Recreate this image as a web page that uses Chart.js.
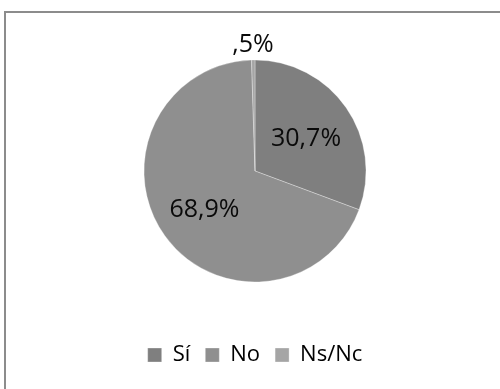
<!DOCTYPE html>
<html>
<head>
<meta charset="utf-8">
<script src="https://cdn.jsdelivr.net/npm/chart.js@4.4.0/dist/chart.umd.min.js"></script>
<style>
  html, body { margin: 0; padding: 0; background: #fff; overflow: hidden; }
  #wrap { position: relative; width: 500px; height: 389px; }
  #frame { position: absolute; left: 4px; top: 11px; width: 600px; height: 500px;
           border-top: 2px solid #8c8c8c; border-left: 2px solid #8c8c8c; }
  #c { position: absolute; left: 0; top: 0; }
</style>
</head>
<body>
<div id="wrap">
  <div id="frame"></div>
  <canvas id="c" width="500" height="389"></canvas>
</div>
<script>
var categories = ['Sí', 'No', 'Ns/Nc'];
var values = [30.7, 68.9, 0.5];
var colors = ['#7f7f7f', '#8f8f8f', '#a5a5a5'];

function fmt(v) {
  var s = v.toFixed(1).replace('.', ',');
  if (s.indexOf('0,') === 0) s = s.substring(1);
  return s + '%';
}

// percentage labels on the slices (small ones go outside)
var sliceLabels = {
  id: 'sliceLabels',
  afterDatasetsDraw: function(chart) {
    var ctx = chart.ctx;
    var meta = chart.getDatasetMeta(0);
    var total = values.reduce(function(a, b) { return a + b; }, 0);
    ctx.save();
    ctx.font = '25px "Open Sans"';
    ctx.fillStyle = '#0a0a0a';
    ctx.textAlign = 'center';
    ctx.textBaseline = 'middle';
    meta.data.forEach(function(arc, i) {
      var p = arc.getProps(['x', 'y', 'startAngle', 'endAngle', 'outerRadius'], true);
      var mid = (p.startAngle + p.endAngle) / 2;
      var r = values[i] / total < 0.02 ? p.outerRadius + 18 : p.outerRadius * 0.56;
      ctx.fillText(fmt(values[i]), p.x + Math.cos(mid) * r, p.y + Math.sin(mid) * r + 3);
    });
    ctx.restore();
  }
};

new Chart(document.getElementById('c').getContext('2d'), {
  type: 'pie',
  data: {
    labels: categories,
    datasets: [{
      data: values,
      backgroundColor: colors,
      borderColor: 'rgba(255,255,255,0.3)',
      borderWidth: 1
    }]
  },
  options: {
    responsive: false,
    animation: false,
    radius: 111,
    layout: { padding: { top: 13, bottom: 13, left: 10, right: 0 } },
    plugins: {
      tooltip: { enabled: false },
      legend: {
        position: 'bottom',
        labels: {
          boxWidth: 14,
          boxHeight: 14,
          padding: 15,
          color: '#000',
          font: { family: 'Open Sans', size: 22 }
        }
      }
    }
  },
  plugins: [sliceLabels]
});
</script>
</body>
</html>
